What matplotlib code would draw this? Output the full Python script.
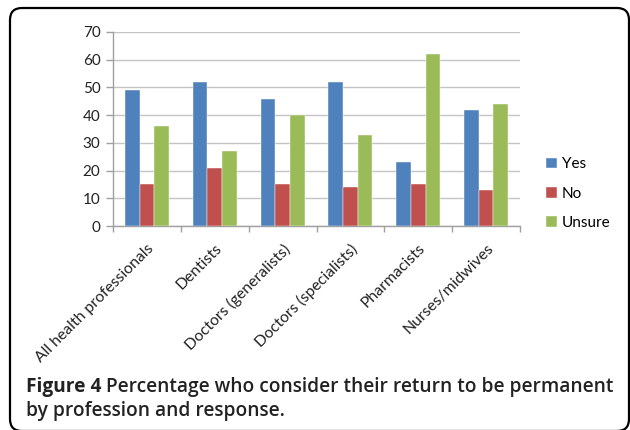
import numpy as np
import matplotlib
matplotlib.use("Agg")
import matplotlib.pyplot as plt
from matplotlib.patches import FancyBboxPatch

professions = ["All health professionals", "Dentists", "Doctors (generalists)",
               "Doctors (specialists)", "Pharmacists", "Nurses/midwives"]
yes = [49, 52, 46, 52, 23, 42]
no = [15, 21, 15, 14, 15, 13]
unsure = [36, 27, 40, 33, 62, 44]
responses = ["Yes", "No", "Unsure"]
colors = ["#4F81BD", "#C0504D", "#9BBB59"]

plt.rcParams['font.family'] = ['Lato', 'DejaVu Sans']

fig = plt.figure(figsize=(6.3, 4.3), dpi=100)
ax = fig.add_axes([0.1794, 0.4744, 0.646, 0.4512])

x = np.arange(len(professions))
w = 0.216
for i, (vals, lab, c) in enumerate(zip([yes, no, unsure], responses, colors)):
    ax.bar(x + (i - 1) * w, vals, w, color=c, label=lab, zorder=3,
           edgecolor='white', linewidth=0.3)

ax.set_xlim(-0.5, len(professions) - 0.5)
ax.set_ylim(0, 70)
ax.set_yticks(range(0, 71, 10))
ax.yaxis.grid(True, color='#C4C4C4', linewidth=1.0, zorder=0)
ax.set_axisbelow(True)

# category boundaries get the tick marks, labels sit under the centres
ax.set_xticks(np.arange(-0.5, len(professions), 1.0))
ax.set_xticklabels([])
ax.set_xticks(x, minor=True)
ax.set_xticklabels(professions, minor=True, rotation=45, ha='right',
                   rotation_mode='anchor', fontsize=11.3, color='#222222')
ax.tick_params(axis='x', which='minor', length=0, pad=11)
ax.tick_params(axis='x', which='major', length=4, color='#A0A0A0', width=1)
ax.tick_params(axis='y', length=5, color='#A0A0A0', width=1, labelsize=11,
               labelcolor='#222222', pad=4)

for s in ['top', 'right']:
    ax.spines[s].set_visible(False)
for s in ['left', 'bottom']:
    ax.spines[s].set_color('#A0A0A0')
    ax.spines[s].set_linewidth(1.0)

ax.legend(loc='upper left', bbox_to_anchor=(1.05, 0.385), frameon=False,
          fontsize=11, handlelength=0.7, handleheight=0.7,
          handletextpad=0.3, labelspacing=1.0, borderaxespad=0)

# caption: bold label followed by semibold text on the same baseline
cap_font = dict(fontsize=13.8, family=['Open Sans', 'DejaVu Sans'],
                color='#222222', va='baseline')
t1 = fig.text(26 / 630, 1 - 392 / 430, "Figure 4 ", fontweight='bold', **cap_font)
fig.canvas.draw()
bb = t1.get_window_extent()
fig.text(bb.x1 / 630, 1 - 392 / 430,
         "Percentage who consider their return to be permanent",
         fontweight='semibold', **cap_font)
fig.text(26 / 630, 1 - 416 / 430, "by profession and response.",
         fontweight='semibold', **cap_font)

border = FancyBboxPatch((10, -1), 619, 423, boxstyle="round,pad=0,rounding_size=12",
                        transform=None, fill=False, edgecolor='black',
                        linewidth=1.6, clip_on=False)
fig.patches.append(border)

fig.savefig("out.png", dpi=100)
